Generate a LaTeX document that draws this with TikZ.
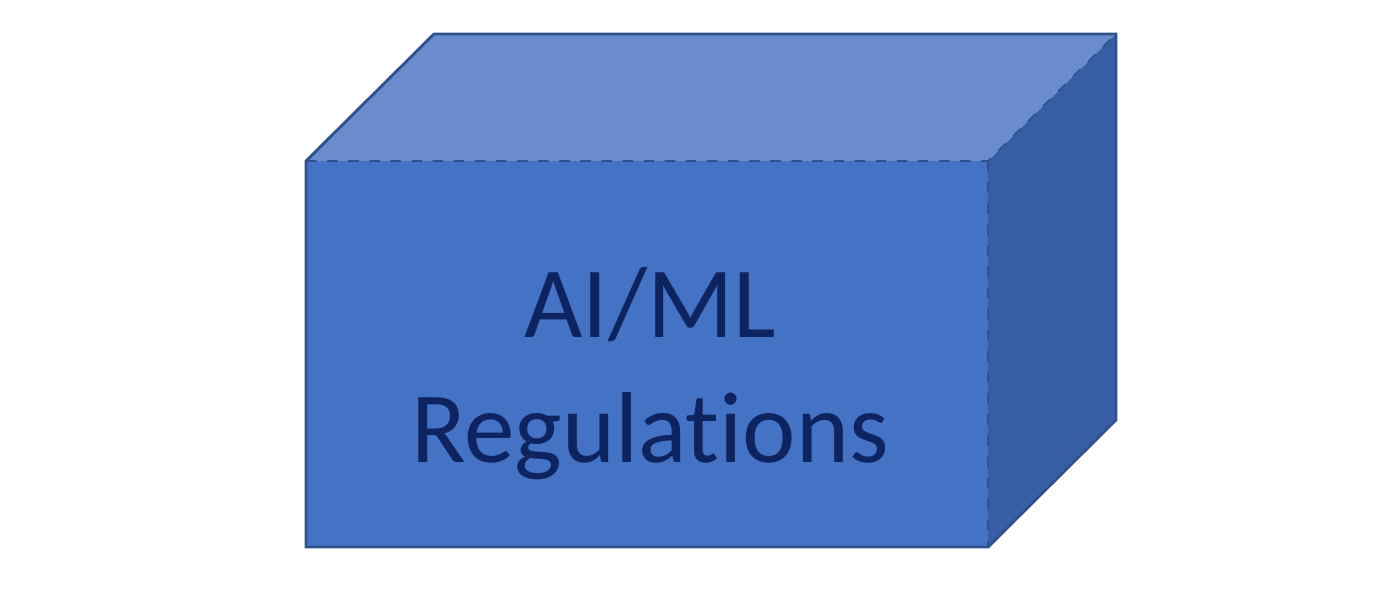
\documentclass[tikz,border=0pt]{standalone}
\usepackage{fontspec}
\setmainfont{Carlito}[Ligatures=NoCommon]
\usepackage{xcolor}
\usepackage{tikz}
\definecolor{frontblue}{HTML}{4472C4}
\definecolor{topblue}{HTML}{6A8CCF}
\definecolor{sideblue}{HTML}{375DA5}
\definecolor{edgeblue}{HTML}{2F528F}
\definecolor{navy}{HTML}{0E2460}
\tikzset{
  face/.style={draw=edgeblue,line width=0.8pt,line join=miter},
  lbl/.style={text=navy,align=center,font=\fontsize{28.7}{35.3}\selectfont,inner sep=0pt},
}
\begin{document}
\begin{tikzpicture}[x=0.01cm,y=-0.01cm]
\useasboundingbox (0,0) rectangle (1400,591);

% corners of the box
\coordinate (fl) at (306,161);
\coordinate (fr) at (988,161);
\coordinate (br) at (988,547);
\coordinate (bl) at (306,547);
\coordinate (tl) at (434,34);
\coordinate (tr) at (1116,34);
\coordinate (rb) at (1116,420);

\fill[topblue] (fl) -- (tl) -- (tr) -- (fr) -- cycle;
\fill[sideblue] (fr) -- (tr) -- (rb) -- (br) -- cycle;
\fill[frontblue] (fl) -- (fr) -- (br) -- (bl) -- cycle;
\draw[face] (fl) -- (tl) -- (tr) -- (rb) -- (br) -- (bl) -- cycle;
\draw[face,dashed,line width=0.5pt] (fl) -- (fr) -- (tr) (fr) -- (br);

\node[lbl,anchor=base] (reg) at (650,462) {AI/ML\\Regulations};
\end{tikzpicture}
\end{document}
